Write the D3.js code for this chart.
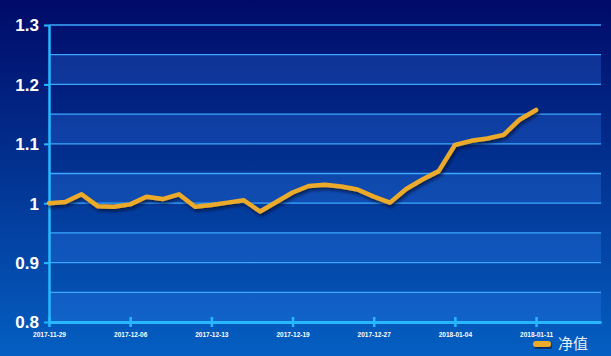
<!DOCTYPE html>
<html><head><meta charset="utf-8">
<script src="https://cdn.jsdelivr.net/npm/d3@7"></script>
<style>html,body{margin:0;padding:0;background:#002080;}svg{display:block;}</style>
</head><body>
<svg id="c" width="611" height="356"></svg>
<script>
const dates = ["2017-11-29","2017-11-30","2017-12-01","2017-12-04","2017-12-05","2017-12-06",
  "2017-12-07","2017-12-08","2017-12-11","2017-12-12","2017-12-13",
  "2017-12-14","2017-12-15","2017-12-17","2017-12-18","2017-12-19",
  "2017-12-20","2017-12-21","2017-12-22","2017-12-26","2017-12-27",
  "2017-12-28","2017-12-29","2018-01-02","2018-01-03","2018-01-04",
  "2018-01-05","2018-01-08","2018-01-09","2018-01-10","2018-01-11",
  "2018-01-12","2018-01-15","2018-01-16","2018-01-17"];
const netValue = [1.000,1.002,1.015,0.995,0.994,0.998,1.011,1.007,1.015,0.994,0.997,
  1.001,1.005,0.986,1.002,1.018,1.029,1.031,1.028,1.023,1.011,1.001,1.024,1.040,1.054,
  1.098,1.105,1.109,1.115,1.141,1.157];
const yTicks = [0.8,0.9,1,1.1,1.2,1.3];
const tickDates = ["2017-11-29","2017-12-06","2017-12-13","2017-12-19","2017-12-27","2018-01-04","2018-01-11"];
const seriesName = "净值";

const W=611,H=356, L=49, R=601, T=25, B=322;
const svg=d3.select("#c");
const defs=svg.append("defs");
const bg=defs.append("linearGradient").attr("id","bg").attr("x1",0).attr("y1",0).attr("x2",0).attr("y2",1);
bg.append("stop").attr("offset","0%").attr("stop-color","#010a68");
bg.append("stop").attr("offset","45%").attr("stop-color","#02308f");
bg.append("stop").attr("offset","100%").attr("stop-color","#045fc2");
const f=defs.append("filter").attr("id","sh").attr("x","-5%").attr("y","-20%").attr("width","110%").attr("height","140%");
f.append("feDropShadow").attr("dx",1.5).attr("dy",2.5).attr("stdDeviation",1.5).attr("flood-color","#000a30").attr("flood-opacity",0.75);

svg.append("rect").attr("width",W).attr("height",H).attr("fill","url(#bg)");

const x=d3.scalePoint().domain(dates).range([L,R]);
const y=d3.scaleLinear().domain([0.8,1.3]).range([B,T]);

// split areas (bands every 0.05)
const bands=d3.range(0.8,1.3,0.05).map(v=>+v.toFixed(2));
svg.append("g").selectAll("rect").data(bands).join("rect")
  .attr("x",L).attr("width",R-L)
  .attr("y",d=>y(d+0.05)).attr("height",d=>y(d)-y(d+0.05))
  .attr("fill","#3a8cff")
  .attr("fill-opacity",(d,i)=>i%2===0?0.24:0.0);

// grid lines
svg.append("g").selectAll("line").data(bands.slice(1).concat([1.3])).join("line")
  .attr("x1",L).attr("x2",R).attr("y1",d=>y(d)).attr("y2",d=>y(d))
  .attr("stroke","#3ca8ff").attr("stroke-width",1.3);

// y axis
const ya=svg.append("g").attr("transform",`translate(${L},0)`)
  .call(d3.axisLeft(y).tickValues(yTicks).tickSize(5).tickSizeOuter(0).tickPadding(5).tickFormat(d=>d===1?"1":d3.format(".1f")(d)));
ya.select(".domain").attr("stroke","#27b8ff").attr("stroke-width",2.5);
ya.selectAll(".tick line").attr("stroke","#27b8ff").attr("stroke-width",2);
ya.selectAll("text").attr("fill","#ffffff").attr("font-family","Liberation Sans, Arial, sans-serif")
  .attr("font-weight","bold").attr("font-size",17).attr("dy","0.35em");

// x axis
const xa=svg.append("g").attr("transform",`translate(0,${B})`)
  .call(d3.axisBottom(x).tickValues(tickDates).tickSize(5).tickSizeOuter(0).tickPadding(4));
xa.select(".domain").attr("stroke","#27b8ff").attr("stroke-width",3);
xa.selectAll(".tick line").attr("stroke","#27b8ff").attr("stroke-width",2.5).attr("y1",-5).attr("y2",5);
xa.selectAll("text").attr("fill","#ffffff").attr("font-family","Liberation Sans, Arial, sans-serif")
  .attr("font-weight","bold").attr("font-size",6.5).attr("dy","0.9em");

// line
const line=d3.line().x((d,i)=>x(dates[i])).y(d=>y(d));
svg.append("path").datum(netValue).attr("d",line).attr("fill","none")
  .attr("stroke","#ecaa2c").attr("stroke-width",4.5).attr("stroke-linejoin","round").attr("stroke-linecap","round")
  .attr("filter","url(#sh)");

// legend
const lg=svg.append("g").attr("transform","translate(533,344)");
lg.append("rect").attr("x",0).attr("y",-3).attr("width",18).attr("height",6).attr("rx",3)
  .attr("fill","#ecaa2c").attr("filter","url(#sh)");
lg.append("text").attr("x",25).attr("y",0).attr("dy","0.36em").text(seriesName)
  .attr("fill","#e8eef8").attr("font-family","Noto Sans CJK SC, sans-serif").attr("font-size",15);
</script>
</body></html>
